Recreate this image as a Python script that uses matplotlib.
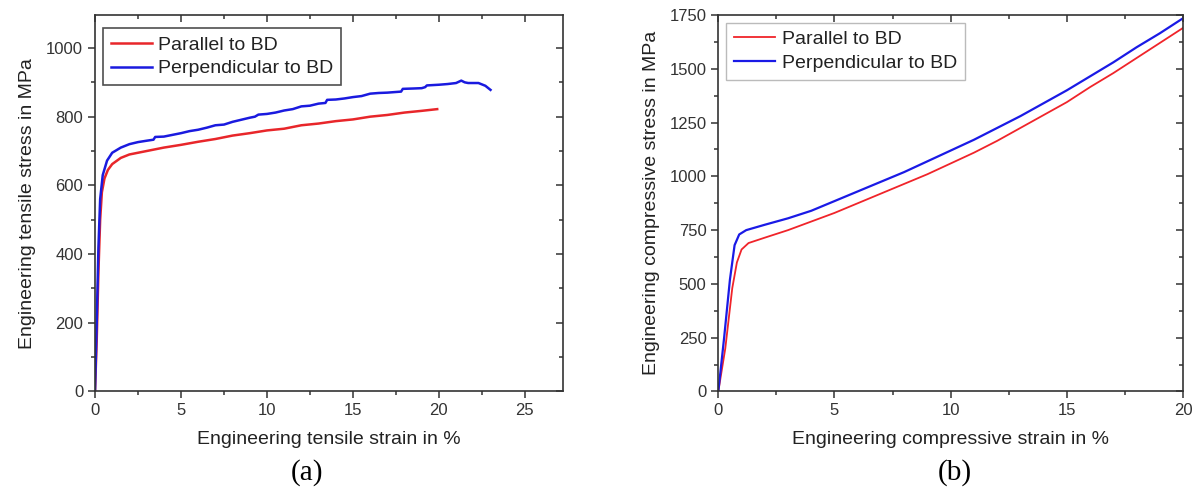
import numpy as np
import matplotlib.pyplot as plt
from matplotlib.ticker import MultipleLocator

plt.rcParams['font.family'] = ['Liberation Sans', 'DejaVu Sans']

# (a) tensile test, strain in %, stress in MPa
ten_par_x = [0, 0.1, 0.2, 0.3, 0.4, 0.55, 0.75, 1.0, 1.5, 2, 3, 4, 5, 6, 7, 8, 9, 10,
             11, 12, 13, 14, 15, 16, 17, 18, 19, 19.9]
ten_par_y = [0, 150, 350, 500, 580, 620, 645, 662, 680, 690, 700, 710, 718, 727, 735,
             745, 752, 760, 765, 775, 780, 787, 792, 800, 805, 812, 817, 822]

ten_perp_x = [0, 0.1, 0.2, 0.3, 0.45, 0.7, 1.0, 1.5, 2, 2.5, 3, 3.4, 3.5, 4, 4.5, 5, 5.5,
              6, 6.5, 7, 7.5, 8, 8.5, 9, 9.3, 9.5, 10, 10.5, 11, 11.5, 12, 12.5, 13,
              13.4, 13.5, 14, 14.5, 15, 15.5, 16, 16.5, 17, 17.8, 17.9, 18.5, 19, 19.2,
              19.3, 20, 20.5, 21, 21.3, 21.5, 21.7, 22.3, 22.7, 23]
ten_perp_y = [0, 200, 420, 560, 630, 672, 695, 710, 720, 726, 730, 733, 741, 742, 747,
              752, 758, 762, 768, 775, 777, 785, 791, 797, 800, 806, 808, 812, 818, 822,
              830, 832, 838, 840, 849, 850, 853, 857, 860, 867, 869, 870, 873, 881, 882,
              883, 886, 891, 893, 895, 898, 905, 900, 898, 898, 890, 878]

# (b) compressive test
com_par_x = [0, 0.3, 0.6, 0.8, 1.0, 1.3, 2, 3, 4, 5, 6, 7, 8, 9, 10, 11, 12, 13, 14,
             15, 16, 17, 18, 19, 20]
com_par_y = [0, 200, 480, 600, 660, 690, 715, 750, 790, 830, 875, 920, 965, 1010, 1060,
             1110, 1165, 1225, 1285, 1345, 1415, 1480, 1550, 1620, 1690]

com_perp_x = [0, 0.25, 0.5, 0.7, 0.9, 1.2, 2, 3, 4, 5, 6, 7, 8, 9, 10, 11, 12, 13, 14,
              15, 16, 17, 18, 19, 20]
com_perp_y = [0, 250, 520, 680, 730, 750, 775, 805, 840, 885, 930, 975, 1020, 1070,
              1120, 1170, 1225, 1280, 1340, 1400, 1465, 1530, 1600, 1665, 1735]

labels = ["Parallel to BD", "Perpendicular to BD"]

fig = plt.figure(figsize=(11.95, 4.92), dpi=100)
ax1 = fig.add_axes([0.0795, 0.2043, 0.3914, 0.7652])
ax2 = fig.add_axes([0.6011, 0.2043, 0.3889, 0.7652])

TXT = '#222222'


def style_axis(ax):
    for s in ax.spines.values():
        s.set_linewidth(1.2)
        s.set_color('#333333')
    ax.tick_params(which='both', direction='out', top=False, right=False,
                   labelsize=12, colors='#333333', labelcolor='#333333', width=1.1)
    ax.tick_params(which='major', length=5)
    ax.tick_params(which='minor', length=3)
    # mirrored ticks pointing inside on top and right
    sec_x = ax.secondary_xaxis('top')
    sec_y = ax.secondary_yaxis('right')
    sec_x.set_xticks(ax.get_xticks())
    sec_y.set_yticks(ax.get_yticks())
    sec_x.xaxis.set_minor_locator(ax.xaxis.get_minor_locator())
    sec_y.yaxis.set_minor_locator(ax.yaxis.get_minor_locator())
    for sec in (sec_x, sec_y):
        sec.tick_params(which='both', direction='in', width=1.1, colors='#333333')
        sec.tick_params(which='major', length=5)
        sec.tick_params(which='minor', length=3)
        sec.spines[:].set_visible(False)
    sec_x.set_xticklabels([])
    sec_y.set_yticklabels([])


def make_legend(ax, x0, y0, edge, lw):
    leg = ax.legend(loc='upper left', fontsize=14, frameon=True, fancybox=False,
                    borderpad=0.4, handlelength=2.1, handletextpad=0.35,
                    labelspacing=0.32, bbox_to_anchor=(x0, y0), borderaxespad=0)
    leg.get_frame().set_edgecolor(edge)
    leg.get_frame().set_linewidth(lw)
    for t in leg.get_texts():
        t.set_color(TXT)
    return leg


# panel (a)
ax1.plot(ten_par_x, ten_par_y, color='#e8262a', lw=1.8, label=labels[0])
ax1.plot(ten_perp_x, ten_perp_y, color='#1a1adf', lw=1.8, label=labels[1])
ax1.set_xlim(0, 27.2)
ax1.set_ylim(0, 1096)
ax1.xaxis.set_major_locator(MultipleLocator(5))
ax1.xaxis.set_minor_locator(MultipleLocator(2.5))
ax1.yaxis.set_major_locator(MultipleLocator(200))
ax1.yaxis.set_minor_locator(MultipleLocator(100))
ax1.set_xlabel("Engineering tensile strain in %", fontsize=14, color=TXT, labelpad=9)
ax1.set_ylabel("Engineering tensile stress in MPa", fontsize=14, color=TXT, labelpad=7)
make_legend(ax1, 0.017, 0.965, '#222222', 1.2)
style_axis(ax1)

# panel (b)
ax2.plot(com_par_x, com_par_y, color='#f0242a', lw=1.3, label=labels[0])
ax2.plot(com_perp_x, com_perp_y, color='#1a1ae6', lw=1.6, label=labels[1])
ax2.set_xlim(0, 20)
ax2.set_ylim(0, 1750)
ax2.xaxis.set_major_locator(MultipleLocator(5))
ax2.xaxis.set_minor_locator(MultipleLocator(2.5))
ax2.yaxis.set_major_locator(MultipleLocator(250))
ax2.yaxis.set_minor_locator(MultipleLocator(125))
ax2.set_xlabel("Engineering compressive strain in %", fontsize=14, color=TXT, labelpad=9)
ax2.set_ylabel("Engineering compressive stress in MPa", fontsize=14, color=TXT, labelpad=7)
make_legend(ax2, 0.017, 0.98, '#aaaaaa', 1.0)
style_axis(ax2)

fig.text(0.257, 0.012, "(a)", family='Liberation Serif', fontsize=21, ha='center', va='bottom')
fig.text(0.799, 0.012, "(b)", family='Liberation Serif', fontsize=21, ha='center', va='bottom')

fig.savefig("out.png", dpi=100)
